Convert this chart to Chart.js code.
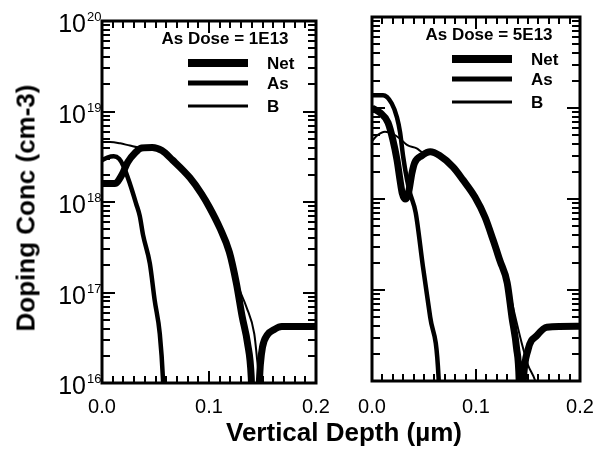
<!DOCTYPE html>
<html>
<head>
<meta charset="utf-8">
<script src="https://cdn.jsdelivr.net/npm/chart.js@4.4.1/dist/chart.umd.min.js"></script>
<style>
  html, body { margin: 0; padding: 0; background: #fff; }
  #wrap { position: relative; width: 596px; height: 450px; overflow: hidden; font-family: 'Liberation Sans', Arial, Helvetica, sans-serif; color: #000; }
  .panel { position: absolute; top: 0; height: 450px; }
  #leftPanel { left: 0; width: 330px; }
  #rightPanel { left: 340px; width: 256px; }
  .yTitle { position: absolute; left: 26px; top: 208px; transform: translate(-50%, -50%) rotate(-90deg); font-weight: bold; font-size: 26px; white-space: nowrap; }
  .xTitle { position: absolute; left: 344px; top: 432px; transform: translate(-50%, -50%); font-weight: bold; font-size: 26px; white-space: nowrap; }
</style>
</head>
<body>
<div id="wrap">
  <div class="panel" id="leftPanel"><canvas id="chartLow" width="330" height="450"></canvas></div>
  <div class="panel" id="rightPanel"><canvas id="chartHigh" width="256" height="450"></canvas></div>
  <div class="yTitle">Doping Conc (cm-3)</div>
  <div class="xTitle">Vertical Depth (&micro;m)</div>
</div>
<script>
// depth in um, concentration in cm-3
const depthTicks = [0, 0.1, 0.2];
const depthMinorStep = 0.01;
const decadeTicks = [16, 17, 18, 19, 20];
const legendLabels = ['Net', 'As', 'B'];
const doseLabels = ['As Dose = 1E13', 'As Dose = 5E13'];

// As dose 1E13
const net1E13 = [[0, 1.6e18], [0.012, 1.6e18], [0.0186, 2.0e18], [0.024, 2.75e18], [0.031, 3.5e18], [0.037, 3.95e18],
  [0.047, 4.0e18], [0.056, 3.7e18], [0.066, 2.9e18], [0.082, 1.86e18], [0.093, 1.23e18], [0.1005, 8.7e17],
  [0.110, 5.2e17], [0.119, 2.8e17], [0.1256, 1.26e17], [0.131, 5.4e16], [0.136, 2.75e16], [0.1395, 1.15e16],
  [0.1405, 5e15], [0.1455, 5e15], [0.147, 1.0e16], [0.148, 1.6e16], [0.150, 2.5e16], [0.1545, 3.4e16],
  [0.161, 3.9e16], [0.168, 4.2e16], [0.2, 4.2e16]];
const as1E13 = [[0, 2.9e18], [0.005, 3.1e18], [0.011, 3.2e18], [0.016, 3.0e18], [0.020, 2.5e18], [0.026, 1.6e18],
  [0.032, 9.5e17], [0.0353, 7.0e17], [0.0384, 4.3e17], [0.0447, 2.1e17], [0.0493, 8.1e16], [0.054, 3.5e16],
  [0.057, 1.1e16], [0.058, 5e15]];
const b1E13 = [[0, 4.6e18], [0.0075, 4.6e18], [0.017, 4.45e18], [0.026, 4.2e18], [0.035, 4.0e18], [0.047, 4.0e18],
  [0.056, 3.7e18], [0.066, 2.9e18], [0.082, 1.86e18], [0.093, 1.23e18], [0.1005, 8.7e17], [0.110, 5.2e17],
  [0.119, 2.8e17], [0.127, 1.2e17], [0.135, 6.9e16], [0.1423, 3.5e16], [0.145, 1.8e16], [0.147, 1.0e16],
  [0.148, 5e15]];

// As dose 5E13
const net5E13 = [[0, 1.0e19], [0.0077, 8.9e18], [0.0154, 6.9e18], [0.020, 4.5e18], [0.024, 2.7e18], [0.027, 1.6e18],
  [0.029, 1.17e18], [0.0317, 1.0e18], [0.0346, 1.1e18], [0.0385, 1.95e18], [0.041, 2.5e18], [0.048, 3.0e18],
  [0.056, 3.3e18], [0.065, 3.0e18], [0.078, 2.24e18], [0.0875, 1.62e18], [0.099, 1.05e18], [0.1087, 6.3e17],
  [0.1166, 3.5e17], [0.123, 2.1e17], [0.13, 1.2e17], [0.1346, 5e16], [0.139, 2.3e16], [0.1415, 1.0e16],
  [0.142, 5e15], [0.1445, 5e15], [0.1455, 1.0e16], [0.150, 2.2e16], [0.159, 3.2e16], [0.168, 3.9e16],
  [0.2, 4.0e16]];
const as5E13 = [[0, 1.38e19], [0.0106, 1.38e19], [0.019, 1.12e19], [0.024, 7.9e18], [0.027, 5.4e18], [0.030, 2.9e18],
  [0.0337, 1.62e18], [0.0365, 1.17e18], [0.042, 7.1e17], [0.049, 1.8e17], [0.056, 5e16], [0.064, 1.1e16],
  [0.065, 5e15]];
const b5E13 = [[0, 4.3e18], [0.005, 5.0e18], [0.0125, 5.5e18], [0.02, 5.2e18], [0.027, 4.6e18], [0.034, 3.9e18],
  [0.043, 3.6e18], [0.05, 3.2e18], [0.056, 3.3e18], [0.065, 3.0e18], [0.078, 2.24e18], [0.0875, 1.62e18],
  [0.099, 1.05e18], [0.1087, 6.3e17], [0.1166, 3.5e17], [0.123, 2.1e17], [0.13, 1.25e17], [0.1356, 6.5e16],
  [0.144, 2.6e16], [0.15, 1.5e16], [0.157, 1.0e16], [0.16, 7e15]];

const FONT = "'Liberation Sans', Arial, Helvetica, sans-serif";
const lineWidths = [7, 4.5, 2];
const legendWidths = [8, 5, 3];

const framePlugin = {
  id: 'frame',
  afterDraw(chart, args, opts) {
    const { ctx, chartArea: a } = chart;
    const x = chart.scales.x, y = chart.scales.y;
    ctx.save();
    ctx.fillStyle = '#000';
    ctx.strokeStyle = '#000';

    ctx.lineWidth = 3;
    ctx.strokeRect(a.left, a.top, a.right - a.left, a.bottom - a.top);

    // inward ticks on all four sides
    const nMinor = Math.round((depthTicks[depthTicks.length - 1] - depthTicks[0]) / depthMinorStep);
    for (let i = 0; i <= nMinor; i++) {
      const px = Math.round(x.getPixelForValue(depthTicks[0] + i * depthMinorStep));
      const len = i % 10 === 0 ? 12 : 7;
      ctx.fillRect(px - 1, a.top, 2, len);
      ctx.fillRect(px - 1, a.bottom - len, 2, len);
    }
    for (let d = decadeTicks[0]; d < decadeTicks[decadeTicks.length - 1]; d++) {
      for (let m = 1; m < 10; m++) {
        const py = Math.round(y.getPixelForValue(m * Math.pow(10, d)));
        const len = m === 1 ? 13 : 8;
        ctx.fillRect(a.left, py - 1, len, 2);
        ctx.fillRect(a.right - len, py - 1, len, 2);
      }
    }

    // x tick labels
    ctx.font = '20px ' + FONT;
    ctx.textAlign = 'center';
    ctx.textBaseline = 'alphabetic';
    depthTicks.forEach(v => {
      ctx.fillText(v.toFixed(1), x.getPixelForValue(v), 413);
    });

    // y tick labels 10^n
    if (opts.yLabels) {
      decadeTicks.forEach(d => {
        const py = y.getPixelForValue(Math.pow(10, d));
        ctx.font = '25px ' + FONT;
        ctx.textAlign = 'right';
        ctx.fillText('10', a.left - 16, py + 11);
        ctx.font = '13px ' + FONT;
        ctx.textAlign = 'left';
        ctx.fillText(String(d), a.left - 15, py);
      });
    }

    // legend block
    ctx.font = 'bold 17px ' + FONT;
    ctx.textAlign = 'center';
    ctx.textBaseline = 'middle';
    ctx.fillText(opts.dose, a.right - 91, a.top + 18);
    const rows = [42, 62, 85];
    legendLabels.forEach((lab, i) => {
      const py = a.top + rows[i];
      ctx.lineWidth = legendWidths[i];
      ctx.beginPath();
      ctx.moveTo(a.right - 128, py);
      ctx.lineTo(a.right - 68, py);
      ctx.stroke();
      ctx.textAlign = 'left';
      ctx.fillText(lab, a.right - 49, py + 1);
    });
    ctx.restore();
  }
};

function makeDatasets(series) {
  return series.map((pts, i) => ({
    label: legendLabels[i],
    data: pts.map(([x, y]) => ({ x, y })),
    borderColor: '#000',
    borderWidth: lineWidths[i],
    borderJoinStyle: 'round',
    pointRadius: 0,
    cubicInterpolationMode: 'monotone',
    fill: false,
    clip: 0
  }));
}

function buildChart(canvasId, series, dose, yLabels, padding) {
  return new Chart(document.getElementById(canvasId), {
    type: 'line',
    data: { datasets: makeDatasets(series) },
    options: {
      responsive: false,
      animation: false,
      events: [],
      layout: { padding },
      plugins: {
        legend: { display: false },
        tooltip: { enabled: false },
        frame: { dose, yLabels }
      },
      scales: {
        x: { type: 'linear', min: depthTicks[0], max: depthTicks[depthTicks.length - 1], display: false },
        y: { type: 'logarithmic', min: Math.pow(10, decadeTicks[0]), max: Math.pow(10, decadeTicks[decadeTicks.length - 1]), display: false }
      }
    },
    plugins: [framePlugin]
  });
}

buildChart('chartLow', [net1E13, as1E13, b1E13], doseLabels[0], true,
  { left: 102, right: 14, top: 21, bottom: 67 });
buildChart('chartHigh', [net5E13, as5E13, b5E13], doseLabels[1], false,
  { left: 32, right: 16, top: 17, bottom: 69 });
</script>
</body>
</html>
